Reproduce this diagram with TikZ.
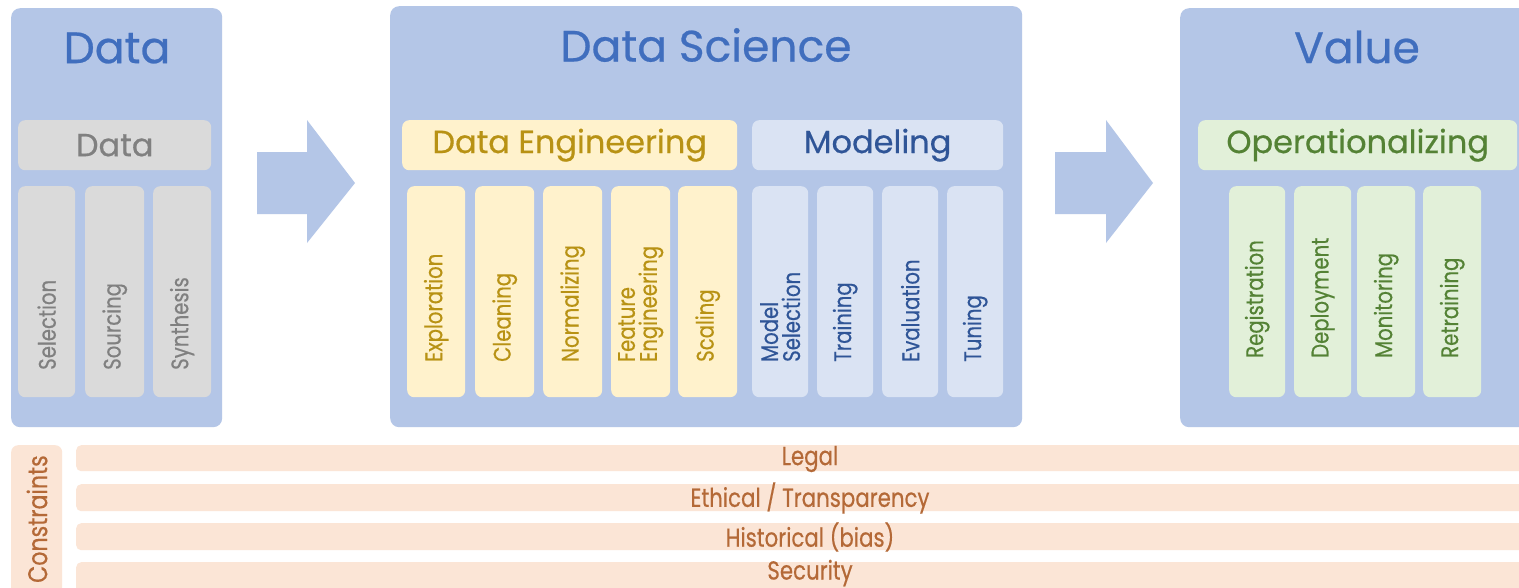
\documentclass[tikz,border=0pt]{standalone}
\usepackage{fontspec}
\setmainfont{Poppins}
\newfontfamily\medfont{Poppins}[FakeBold=0.5]
\definecolor{panel}{RGB}{180,198,231}
\definecolor{titleblue}{RGB}{64,110,190}
\definecolor{grayfill}{RGB}{218,218,218}
\definecolor{graytext}{RGB}{128,128,128}
\definecolor{yelfill}{RGB}{255,242,204}
\definecolor{yeltext}{RGB}{184,146,20}
\definecolor{modfill}{RGB}{218,227,243}
\definecolor{modtext}{RGB}{47,85,151}
\definecolor{grnfill}{RGB}{226,240,217}
\definecolor{grntext}{RGB}{84,130,53}
\definecolor{orfill}{RGB}{251,229,214}
\definecolor{ortext}{RGB}{180,105,55}
\tikzset{
  x=1pt, y=-1pt,
  panelbox/.style={fill=panel, rounded corners=9pt, anchor=north west, inner sep=0pt},
  headbox/.style={rounded corners=7pt, anchor=north west, inner sep=0pt, minimum height=50pt},
  colbox/.style={rounded corners=7pt, anchor=north west, inner sep=0pt, minimum height=211pt},
  bigtitle/.style={text=titleblue, font=\medfont\fontsize{44}{48}\selectfont},
  headtext/.style={font=\medfont\fontsize{32}{34}\selectfont},
  coltext/.style={rotate=90, anchor=west, inner sep=0pt, align=left, font=\medfont\fontsize{24}{22}\selectfont},
  barbox/.style={fill=orfill, rounded corners=5pt, anchor=north west, inner sep=0pt, minimum width=1460pt},
  bartext/.style={text=ortext, font=\medfont\fontsize{26}{27}\selectfont},
  bigarrow/.style={fill=panel}
}
\newcommand{\sq}[1]{\scalebox{0.82}[1]{#1}}
\begin{document}
\begin{tikzpicture}
\useasboundingbox (0,0) rectangle (1519,587);
\fill[white] (0,0) rectangle (1519,587);
% ---------- Data panel
\node[panelbox, minimum width=211pt, minimum height=419pt] (pdata) at (11,8) {};
\node[bigtitle] (tdata) at (117,48) {Data};
\node[headbox, fill=grayfill, minimum width=193pt] (hdata) at (18,120) {};
\node[headtext, text=graytext] at (hdata.center) {Data};
\node[colbox, fill=grayfill, minimum width=57pt] (c1) at (18,186) {};
\node[colbox, fill=grayfill, minimum width=59pt] (c2) at (85,186) {};
\node[colbox, fill=grayfill, minimum width=58pt] (c3) at (153,186) {};
\node[coltext, text=graytext] at (c1.center |- 0,370) {\sq{Selection}};
\node[coltext, text=graytext] at (c2.center |- 0,370) {\sq{Sourcing}};
\node[coltext, text=graytext] at (c3.center |- 0,370) {\sq{Synthesis}};
% ---------- Data Science panel
\node[panelbox, minimum width=632pt, minimum height=421pt] (pds) at (390,6) {};
\node[bigtitle] (tds) at (706,45) {Data Science};
\node[headbox, fill=yelfill, minimum width=335pt] (hde) at (402,120) {};
\node[headtext, text=yeltext] at (hde.center) {Data Engineering};
\node[headbox, fill=modfill, minimum width=251pt] (hmod) at (752,120) {};
\node[headtext, text=modtext] at (hmod.center) {Modeling};
\node[colbox, fill=yelfill, minimum width=58pt] (d1) at (407,186) {};
\node[colbox, fill=yelfill, minimum width=59pt] (d2) at (475,186) {};
\node[colbox, fill=yelfill, minimum width=59pt] (d3) at (543,186) {};
\node[colbox, fill=yelfill, minimum width=59pt] (d4) at (611,186) {};
\node[colbox, fill=yelfill, minimum width=59pt] (d5) at (678,186) {};
\node[coltext, text=yeltext] at (d1.center |- 0,362) {\sq{Exploration}};
\node[coltext, text=yeltext] at (d2.center |- 0,362) {\sq{Cleaning}};
\node[coltext, text=yeltext] at (d3.center |- 0,362) {\sq{Normalizing}};
\node[coltext, text=yeltext] at (d4.center |- 0,362) {\sq{Feature}\\\sq{Engineering}};
\node[coltext, text=yeltext] at (d5.center |- 0,362) {\sq{Scaling}};
\node[colbox, fill=modfill, minimum width=56pt] (m1) at (752,186) {};
\node[colbox, fill=modfill, minimum width=56pt] (m2) at (817,186) {};
\node[colbox, fill=modfill, minimum width=56pt] (m3) at (882,186) {};
\node[colbox, fill=modfill, minimum width=56pt] (m4) at (947,186) {};
\node[coltext, text=modtext] at (m1.center |- 0,362) {\sq{Model}\\\sq{Selection}};
\node[coltext, text=modtext] at (m2.center |- 0,362) {\sq{Training}};
\node[coltext, text=modtext] at (m3.center |- 0,362) {\sq{Evaluation}};
\node[coltext, text=modtext] at (m4.center |- 0,362) {\sq{Tuning}};
% ---------- Value panel
\node[panelbox, minimum width=350pt, minimum height=419pt] (pval) at (1180,8) {};
\node[bigtitle] (tval) at (1357,47) {Value};
\node[headbox, fill=grnfill, minimum width=319pt] (hop) at (1198,120) {};
\node[headtext, text=grntext] at (hop.center) {Operationalizing};
\node[colbox, fill=grnfill, minimum width=56pt] (v1) at (1229,186) {};
\node[colbox, fill=grnfill, minimum width=57pt] (v2) at (1294,186) {};
\node[colbox, fill=grnfill, minimum width=58pt] (v3) at (1357,186) {};
\node[colbox, fill=grnfill, minimum width=58pt] (v4) at (1423,186) {};
\node[coltext, text=grntext] at (v1.center |- 0,358) {\sq{Registration}};
\node[coltext, text=grntext] at (v2.center |- 0,358) {\sq{Deployment}};
\node[coltext, text=grntext] at (v3.center |- 0,358) {\sq{Monitoring}};
\node[coltext, text=grntext] at (v4.center |- 0,358) {\sq{Retraining}};
% ---------- big arrows
\fill[bigarrow] (257,152) -- (307,152) -- (307,120) -- (355,183) -- (307,243) -- (307,214) -- (257,214) -- cycle;
\fill[bigarrow] (1055,152) -- (1106,152) -- (1106,120) -- (1153,183) -- (1106,243) -- (1106,214) -- (1055,214) -- cycle;
% ---------- constraints
\node[fill=orfill, rounded corners=7pt, anchor=north west, inner sep=0pt, minimum width=51pt, minimum height=160pt] (cons) at (11,445) {};
\node[rotate=90, anchor=west, inner sep=0pt, text=ortext, font=\medfont\fontsize{27}{28}\selectfont] at (37,583) {\sq{Constraints}};
\node[barbox, minimum height=26pt] (b1) at (76,445) {};
\node[barbox, minimum height=27pt] (b2) at (76,484) {};
\node[barbox, minimum height=27pt] (b3) at (76,523) {};
\node[barbox, minimum height=40pt] (b4) at (76,562) {};
\node[bartext] at (810,459) {\sq{Legal}};
\node[bartext] at (810,498) {\sq{Ethical / Transparency}};
\node[bartext] at (810,537) {\sq{Historical (bias)}};
\node[bartext] at (810,573) {\sq{Security}};
\end{tikzpicture}
\end{document}
